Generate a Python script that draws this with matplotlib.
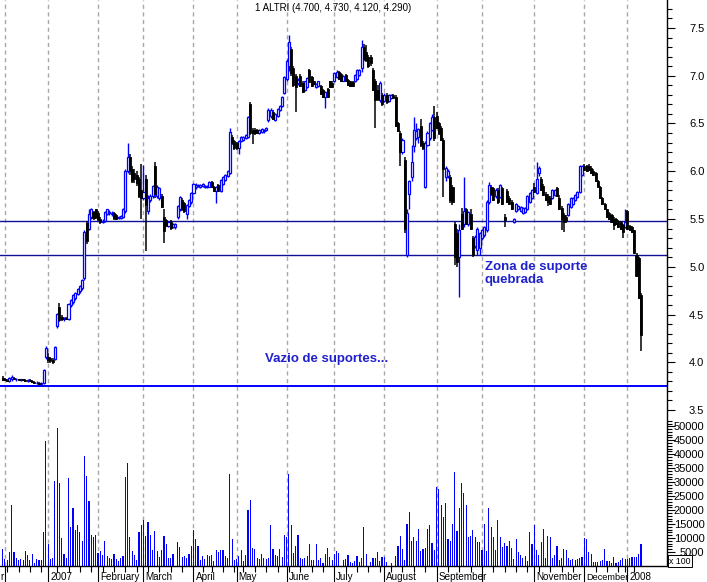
import numpy as np
import pandas as pd
import matplotlib
matplotlib.use("Agg")
import matplotlib.pyplot as plt
from matplotlib.ticker import FixedLocator, FormatStrFormatter
import matplotlib.transforms as mtransforms

plt.rcParams['font.family'] = ['Liberation Sans', 'DejaVu Sans']

# trading calendar (Euronext Lisbon holidays)
holidays = ['2006-12-25', '2006-12-26', '2007-01-01', '2007-04-06', '2007-04-09',
            '2007-05-01', '2007-12-25', '2007-12-26', '2008-01-01']
dates = pd.bdate_range('2006-11-30', '2008-01-10', freq='C', holidays=holidays)

# daily prices, one row per month (Dec06 ... Jan08)
opens = [
    3.84, 3.82, 3.81, 3.80, 3.82, 3.84, 3.82, 3.82, 3.81, 3.82, 3.81, 3.80, 3.81, 3.80, 3.79, 3.78, 3.78, 3.77, 3.78, 4.05,
    4.06, 4.04, 4.02, 4.03, 4.38, 4.58, 4.47, 4.45, 4.46, 4.45, 4.60, 4.63, 4.67, 4.72, 4.75, 4.78, 4.88, 5.46, 5.40, 5.52, 5.57, 5.60,
    5.56, 5.50, 5.47, 5.48, 5.55, 5.56, 5.55, 5.56, 5.54, 5.51, 5.51, 5.52, 5.58, 6.00, 6.15, 6.02, 5.98, 5.96, 5.92, 5.80,
    5.72, 5.92, 5.58, 5.70, 5.74, 6.05, 5.74, 5.72, 5.74, 5.52, 5.49, 5.43, 5.47, 5.42, 5.42, 5.52, 5.60, 5.70, 5.67, 5.55, 5.64, 5.68,
    5.77, 5.83, 5.85, 5.84, 5.85, 5.84, 5.83, 5.84, 5.89, 5.84, 5.79, 5.86, 5.79, 5.87, 5.91, 5.95, 5.98, 6.36, 6.32,
    6.30, 6.24, 6.32, 6.33, 6.35, 6.36, 6.70, 6.43, 6.43, 6.43, 6.40, 6.41, 6.42, 6.43, 6.54, 6.58, 6.62, 6.54, 6.58, 6.64, 6.68, 6.82,
    6.97, 7.10, 7.28, 7.08, 7.00, 6.92, 7.00, 6.92, 6.85, 6.88, 7.06, 6.99, 6.94, 6.88, 6.89, 6.89, 6.85, 6.78, 6.86, 6.94, 6.92,
    6.94, 6.99, 7.04, 7.02, 6.95, 7.01, 6.96, 6.94, 6.93, 6.94, 6.97, 7.01, 7.08, 7.30, 7.25, 7.20, 7.20, 7.06, 6.95, 6.85, 6.75, 6.80,
    6.74, 6.80, 6.74, 6.77, 6.80, 6.78, 6.50, 6.40, 6.20, 6.12, 5.12, 5.76, 5.94, 6.26, 6.35, 6.36, 6.47, 6.30, 5.84, 6.28, 6.35, 6.43, 6.57,
    6.58, 6.50, 6.45, 6.33, 5.94, 5.95, 5.94, 5.84, 5.45, 5.35, 5.10, 5.55, 5.45, 5.60, 5.45, 5.55, 5.30, 5.22, 5.18, 5.20,
    5.30, 5.33, 5.38, 5.68, 5.84, 5.82, 5.74, 5.80, 5.73, 5.82, 5.52, 5.79, 5.72, 5.68, 5.47, 5.58, 5.60, 5.58, 5.56, 5.57, 5.60, 5.68, 5.72,
    5.84, 5.77, 5.98, 5.92, 5.85, 5.76, 5.74, 5.72, 5.72, 5.75, 5.82, 5.72, 5.62, 5.54, 5.52, 5.54, 5.63, 5.66, 5.70, 5.73, 5.78, 5.96,
    6.06, 6.06, 6.05, 6.03, 6.00, 5.98, 5.90, 5.84, 5.72, 5.66, 5.60, 5.56, 5.54, 5.50, 5.50, 5.48, 5.47, 5.44, 5.42,
    5.58, 5.43, 5.42, 5.38, 5.12, 5.09, 4.70,
]
highs = [
    3.86, 3.84, 3.83, 3.85, 3.87, 3.85, 3.84, 3.83, 3.83, 3.83, 3.82, 3.82, 3.82, 3.81, 3.80, 3.80, 3.79, 3.79, 3.93, 4.17,
    4.10, 4.06, 4.04, 4.17, 4.52, 4.62, 4.49, 4.47, 4.47, 4.62, 4.66, 4.71, 4.74, 4.78, 4.81, 4.87, 5.38, 5.48, 5.60, 5.62, 5.58, 5.61,
    5.58, 5.52, 5.50, 5.58, 5.61, 5.59, 5.58, 5.57, 5.55, 5.53, 5.54, 5.62, 6.02, 6.30, 6.18, 6.06, 6.02, 6.00, 5.94, 6.08,
    6.07, 5.96, 5.75, 5.76, 5.86, 6.10, 5.86, 5.84, 5.76, 5.60, 5.50, 5.48, 5.49, 5.46, 5.46, 5.65, 5.74, 5.72, 5.68, 5.66, 5.71, 5.78,
    5.88, 5.88, 5.87, 5.87, 5.88, 5.86, 5.86, 5.90, 5.90, 5.85, 5.85, 5.87, 5.92, 5.95, 5.97, 6.01, 6.45, 6.38, 6.33,
    6.31, 6.33, 6.37, 6.37, 6.39, 6.58, 6.72, 6.45, 6.45, 6.44, 6.44, 6.45, 6.44, 6.46, 6.66, 6.66, 6.64, 6.61, 6.66, 6.69, 6.79, 7.00,
    7.18, 7.43, 7.30, 7.10, 7.02, 6.98, 7.02, 6.94, 6.95, 6.99, 7.07, 7.00, 6.95, 6.92, 6.95, 6.90, 6.86, 6.84, 6.87, 6.95, 6.94,
    7.04, 7.06, 7.05, 7.03, 7.01, 7.02, 6.97, 6.95, 6.94, 7.02, 7.07, 7.07, 7.37, 7.33, 7.32, 7.22, 7.22, 7.08, 6.97, 6.90, 6.94, 6.82,
    6.82, 6.82, 6.81, 6.81, 6.81, 6.80, 6.52, 6.42, 6.35, 6.15, 5.60, 5.91, 6.27, 6.57, 6.50, 6.45, 6.55, 6.32, 6.32, 6.42, 6.52, 6.60, 6.68,
    6.62, 6.52, 6.47, 6.35, 6.05, 6.02, 5.96, 5.86, 5.47, 5.40, 5.45, 5.62, 5.94, 5.62, 5.58, 5.60, 5.32, 5.33, 5.42, 5.36,
    5.40, 5.43, 5.70, 5.89, 5.86, 5.84, 5.82, 5.82, 5.87, 5.84, 5.55, 5.81, 5.74, 5.70, 5.51, 5.67, 5.65, 5.64, 5.63, 5.63, 5.75, 5.78, 5.81,
    5.88, 6.10, 6.06, 5.94, 5.87, 5.78, 5.76, 5.74, 5.81, 5.81, 5.84, 5.75, 5.64, 5.56, 5.54, 5.67, 5.73, 5.73, 5.76, 5.79, 6.07, 6.07,
    6.08, 6.07, 6.08, 6.05, 6.02, 5.99, 5.91, 5.85, 5.73, 5.67, 5.61, 5.57, 5.55, 5.52, 5.51, 5.49, 5.48, 5.45, 5.61,
    5.59, 5.44, 5.43, 5.39, 5.14, 5.10, 4.73,
]
lows = [
    3.80, 3.80, 3.79, 3.79, 3.80, 3.81, 3.80, 3.80, 3.80, 3.80, 3.79, 3.79, 3.79, 3.78, 3.77, 3.77, 3.76, 3.76, 3.77, 4.03,
    3.99, 3.99, 3.98, 4.02, 4.36, 4.42, 4.43, 4.43, 4.44, 4.44, 4.58, 4.61, 4.65, 4.70, 4.73, 4.76, 4.86, 5.24, 5.38, 5.50, 5.49, 5.50,
    5.48, 5.45, 5.46, 5.47, 5.54, 5.54, 5.53, 5.49, 5.49, 5.50, 5.50, 5.51, 5.56, 5.98, 5.96, 5.88, 5.88, 5.85, 5.72, 5.50,
    5.70, 5.17, 5.55, 5.68, 5.72, 5.72, 5.72, 5.70, 5.62, 5.25, 5.42, 5.42, 5.39, 5.41, 5.40, 5.50, 5.58, 5.58, 5.56, 5.50, 5.63, 5.66,
    5.76, 5.81, 5.83, 5.82, 5.84, 5.82, 5.82, 5.83, 5.82, 5.78, 5.67, 5.78, 5.78, 5.86, 5.90, 5.94, 5.97, 6.28, 6.22,
    6.22, 6.18, 6.31, 6.32, 6.34, 6.35, 6.38, 6.29, 6.38, 6.39, 6.39, 6.40, 6.40, 6.42, 6.52, 6.56, 6.54, 6.53, 6.57, 6.63, 6.67, 6.81,
    6.95, 7.05, 7.00, 6.88, 6.62, 6.90, 6.88, 6.82, 6.84, 6.87, 6.92, 6.88, 6.90, 6.87, 6.88, 6.80, 6.77, 6.66, 6.77, 6.87, 6.87,
    6.93, 6.98, 6.96, 6.93, 6.94, 6.93, 6.89, 6.88, 6.88, 6.93, 6.96, 7.00, 7.04, 7.15, 7.14, 7.08, 7.10, 6.84, 6.45, 6.74, 6.73, 6.68,
    6.72, 6.70, 6.73, 6.76, 6.76, 6.46, 6.41, 6.05, 6.18, 5.35, 5.10, 5.60, 5.90, 6.20, 6.33, 6.30, 6.25, 6.22, 5.82, 6.26, 6.33, 6.42, 6.32,
    6.44, 6.38, 6.32, 5.73, 5.90, 5.93, 5.67, 5.65, 5.02, 5.00, 4.68, 5.38, 5.42, 5.44, 5.43, 5.38, 5.10, 5.20, 5.12, 5.12,
    5.28, 5.31, 5.36, 5.66, 5.74, 5.69, 5.72, 5.66, 5.72, 5.65, 5.42, 5.67, 5.65, 5.59, 5.46, 5.57, 5.59, 5.57, 5.55, 5.56, 5.59, 5.67, 5.71,
    5.77, 5.76, 5.95, 5.79, 5.74, 5.69, 5.64, 5.65, 5.71, 5.74, 5.73, 5.59, 5.38, 5.36, 5.46, 5.53, 5.62, 5.65, 5.69, 5.72, 5.77, 5.95,
    6.00, 5.99, 6.00, 5.97, 5.95, 5.89, 5.83, 5.71, 5.65, 5.59, 5.51, 5.49, 5.46, 5.39, 5.44, 5.41, 5.39, 5.30, 5.41,
    5.39, 5.37, 5.35, 5.13, 4.89, 4.66, 4.12,
]
closes = [
    3.81, 3.81, 3.80, 3.84, 3.85, 3.82, 3.83, 3.81, 3.82, 3.81, 3.80, 3.81, 3.80, 3.79, 3.78, 3.78, 3.77, 3.78, 3.92, 4.15,
    4.02, 4.01, 4.00, 4.16, 4.51, 4.44, 4.45, 4.46, 4.45, 4.61, 4.65, 4.70, 4.73, 4.77, 4.80, 4.86, 5.36, 5.27, 5.55, 5.60, 5.51, 5.52,
    5.50, 5.47, 5.48, 5.57, 5.60, 5.57, 5.56, 5.51, 5.50, 5.52, 5.53, 5.60, 6.00, 6.15, 6.00, 5.90, 5.92, 5.88, 5.74, 5.72,
    5.78, 5.65, 5.72, 5.74, 5.85, 5.76, 5.84, 5.82, 5.63, 5.37, 5.43, 5.47, 5.41, 5.45, 5.45, 5.64, 5.73, 5.60, 5.58, 5.65, 5.70, 5.77,
    5.87, 5.86, 5.86, 5.86, 5.87, 5.85, 5.85, 5.89, 5.83, 5.79, 5.84, 5.79, 5.91, 5.94, 5.96, 6.00, 6.41, 6.30, 6.24,
    6.24, 6.32, 6.36, 6.36, 6.38, 6.57, 6.40, 6.40, 6.40, 6.40, 6.43, 6.44, 6.43, 6.45, 6.64, 6.64, 6.55, 6.60, 6.65, 6.68, 6.78, 6.99,
    7.15, 7.35, 7.03, 6.90, 6.88, 6.96, 6.89, 6.83, 6.94, 6.98, 6.93, 6.89, 6.91, 6.91, 6.94, 6.81, 6.78, 6.83, 6.78, 6.88, 6.88,
    7.03, 7.04, 6.97, 6.94, 7.00, 6.94, 6.90, 6.89, 6.89, 7.01, 7.06, 7.06, 7.30, 7.18, 7.17, 7.10, 7.13, 6.85, 6.75, 6.76, 6.92, 6.70,
    6.80, 6.72, 6.80, 6.80, 6.77, 6.47, 6.42, 6.20, 6.33, 5.40, 5.56, 5.90, 6.10, 6.43, 6.42, 6.44, 6.27, 6.24, 6.30, 6.40, 6.50, 6.57, 6.35,
    6.45, 6.40, 6.33, 6.02, 6.03, 6.00, 5.70, 5.68, 5.10, 5.05, 5.38, 5.40, 5.58, 5.45, 5.57, 5.40, 5.12, 5.31, 5.40, 5.35,
    5.38, 5.42, 5.68, 5.86, 5.76, 5.70, 5.80, 5.68, 5.86, 5.66, 5.49, 5.68, 5.66, 5.60, 5.50, 5.66, 5.64, 5.63, 5.62, 5.62, 5.74, 5.77, 5.80,
    5.78, 5.92, 6.03, 5.80, 5.75, 5.70, 5.68, 5.66, 5.80, 5.80, 5.74, 5.60, 5.50, 5.47, 5.48, 5.66, 5.72, 5.72, 5.75, 5.78, 6.05, 6.05,
    6.01, 6.00, 6.01, 5.98, 5.96, 5.90, 5.84, 5.72, 5.66, 5.60, 5.52, 5.50, 5.47, 5.44, 5.45, 5.42, 5.40, 5.36, 5.47,
    5.40, 5.38, 5.36, 5.14, 4.90, 4.67, 4.29,
]
# volume in thousands of "x 100" units
volume_k = [
    6.2, 2.6, 2.0, 5.1, 21.8, 5.1, 3.0, 2.0, 2.6, 2.0, 5.5, 4.1, 2.3, 4.4, 1.2, 2.6, 2.0, 2.3, 12.0, 44.6,
    7.7, 2.6, 3.0, 30.3, 49.3, 29.6, 10.2, 4.4, 3.0, 31.4, 14.1, 20.6, 13.0, 14.8, 12.0, 9.1, 39.3, 32.1, 23.1, 11.2, 10.5, 11.2,
    4.8, 5.5, 4.1, 9.1, 3.7, 3.0, 2.6, 4.4, 2.6, 1.9, 3.0, 3.7, 31.7, 36.7, 10.5, 5.5, 4.1, 2.3, 12.3, 14.8,
    16.6, 10.9, 15.9, 11.2, 5.9, 12.7, 5.5, 3.4, 5.9, 10.9, 7.7, 3.0, 3.0, 4.4, 0.0, 8.7, 6.9, 3.4, 3.7, 3.0, 4.4, 7.3,
    13.0, 9.5, 7.3, 2.3, 3.7, 2.6, 4.1, 3.7, 4.1, 1.9, 5.9, 5.1, 5.9, 5.9, 3.7, 3.0, 33.1, 9.8, 2.3,
    2.6, 3.7, 5.9, 1.9, 4.1, 20.2, 23.8, 6.6, 6.2, 3.0, 2.6, 4.4, 3.0, 2.6, 3.0, 14.8, 6.2, 4.1, 3.7, 6.2, 3.4, 11.2,
    10.5, 33.1, 14.8, 4.8, 7.3, 11.2, 3.0, 2.6, 3.0, 3.7, 7.7, 2.3, 2.3, 7.7, 2.3, 3.0, 1.2, 4.4, 6.6, 3.4, 2.3,
    4.4, 5.5, 4.8, 0.0, 2.3, 2.6, 4.1, 1.6, 1.2, 1.9, 3.7, 1.6, 3.0, 13.8, 4.4, 0.0, 1.6, 3.0, 3.0, 5.1, 1.9, 3.4,
    3.4, 1.6, 0.0, 1.2, 0.0, 3.7, 7.3, 10.9, 6.2, 2.3, 15.2, 19.5, 9.1, 10.5, 9.1, 13.4, 5.5, 6.2, 6.6, 13.4, 14.8, 8.4, 5.9,
    28.1, 27.4, 21.7, 17.7, 22.4, 9.8, 9.1, 15.2, 33.5, 12.7, 20.9, 29.6, 26.3, 21.7, 10.5, 10.9, 13.0, 10.5, 8.7, 8.7,
    5.9, 15.2, 5.5, 20.6, 13.8, 10.5, 5.9, 16.3, 10.5, 6.9, 8.4, 7.3, 9.1, 6.6, 2.6, 9.5, 5.1, 4.1, 3.0, 3.7, 1.9, 12.0, 7.7,
    14.5, 5.9, 4.1, 8.7, 13.4, 3.0, 10.9, 10.5, 3.0, 4.1, 7.3, 2.3, 3.0, 6.2, 5.9, 3.0, 2.3, 2.6, 2.3, 2.6, 3.0, 3.4,
    10.2, 9.5, 5.1, 4.4, 1.6, 1.6, 1.6, 1.9, 2.3, 6.2, 1.9, 1.9, 1.2, 3.4, 1.2, 1.6, 2.3, 3.0, 2.6,
    2.6, 3.0, 3.4, 3.4, 3.4, 4.4, 7.7,
]

# support lines and labels
support_levels = [5.48, 5.12]
floor_level = 3.75
# (year, month) -> label; months missing here get no label
month_labels = {(2007, 1): '2007', (2007, 2): 'February', (2007, 3): 'March', (2007, 4): 'April',
                (2007, 5): 'May', (2007, 6): 'June', (2007, 7): 'July', (2007, 8): 'August',
                (2007, 9): 'September', (2007, 11): 'November', (2007, 12): 'December',
                (2008, 1): '2008'}
title = '1 ALTRI (4.700, 4.730, 4.120, 4.290)'

n = len(closes)
assert len(opens) == n and len(highs) == n and len(lows) == n and len(volume_k) == n
dates = dates[:n]
x = np.arange(n)
o = np.array(opens)
h = np.array(highs)
l = np.array(lows)
c = np.array(closes)
vol = np.array(volume_k) * 1000

W, H = 707, 582
fig = plt.figure(figsize=(W / 100, H / 100), dpi=100)
ax = fig.add_axes([0, 16 / H, 666.5 / W, 566 / H])
axv = ax.twinx()

BLUE = '#0000ff'
up = c >= o

# wicks
ax.vlines(x[up], l[up], h[up], colors=BLUE, linewidth=1.0, zorder=3)
ax.vlines(x[~up], l[~up], h[~up], colors='black', linewidth=1.1, zorder=3)
# bodies
ax.bar(x[up], np.maximum(c[up] - o[up], 0.004), bottom=o[up], width=0.9,
       facecolor='white', edgecolor=BLUE, linewidth=0.9, zorder=4)
ax.bar(x[~up], o[~up] - c[~up], bottom=c[~up], width=0.9,
       facecolor='black', edgecolor='black', linewidth=0.6, zorder=4)

# volume
axv.bar(x, vol, width=0.5, color=BLUE, linewidth=0, antialiased=False)

# horizontal support lines
for lev in support_levels:
    ax.axhline(lev, color='#10109a', linewidth=1.0, zorder=2)
ax.axhline(floor_level, color=BLUE, linewidth=1.4, zorder=2)

# month boundaries and weekly ticks
month_idx = [i for i in range(1, n) if dates[i].month != dates[i - 1].month]
week_idx = [i for i in range(1, n) if dates[i].weekday() < dates[i - 1].weekday()]
for i in month_idx:
    ax.axvline(i, color='#a8a8a8', linewidth=1.0, linestyle=(0, (3, 2.5)), zorder=1)

ax.set_xlim(-1.16, 292.2)
ax.set_ylim(1.867, 7.793)
axv.set_ylim(0, 202600)

ax.xaxis.set_major_locator(FixedLocator(month_idx))
ax.xaxis.set_minor_locator(FixedLocator(week_idx))
ax.set_xticklabels([])
ax.tick_params(axis='x', which='major', direction='out', length=11.8, width=0.8, color='black')
ax.tick_params(axis='x', which='minor', direction='out', length=4.3, width=0.8, color='black')

xtr = mtransforms.blended_transform_factory(ax.transData, fig.transFigure)
for i in month_idx:
    d = dates[i]
    lab = month_labels.get((d.year, d.month), '')
    if lab:
        size = 6.6 if lab == 'December' else 7.1
        ax.text(i + 0.9, 1 - 577 / H, lab, transform=xtr, fontsize=size,
                ha='left', va='center', clip_on=False)
# tail of the previous month's label, cut by the left edge
fig.text(4 / W, 1 - 577 / H, 'r', fontsize=7.1, ha='right', va='center')

# right axis ticks: price
ax.yaxis.set_ticks_position('right')
ax.yaxis.set_major_locator(FixedLocator(np.arange(3.5, 7.51, 0.5)))
ax.yaxis.set_minor_locator(FixedLocator(np.arange(3.5, 7.75, 0.1)))
ax.yaxis.set_major_formatter(FormatStrFormatter('%.1f'))
ax.tick_params(axis='y', which='major', direction='out', length=5.8, width=0.8, pad=21.5, labelsize=8)
ax.tick_params(axis='y', which='minor', direction='out', length=3.6, width=0.8)
for t in ax.get_yticklabels():
    t.set_horizontalalignment('right')

# right axis ticks: volume
axv.yaxis.set_major_locator(FixedLocator(np.arange(5000, 50001, 5000)))
axv.yaxis.set_minor_locator(FixedLocator(np.arange(1000, 52001, 1000)))
axv.yaxis.set_major_formatter(FormatStrFormatter('%d'))
axv.tick_params(axis='y', which='major', direction='out', length=5.8, width=0.8, pad=21.5, labelsize=8)
axv.tick_params(axis='y', which='minor', direction='out', length=3.6, width=0.8)
for t in axv.get_yticklabels():
    t.set_horizontalalignment('right')

for a in (ax, axv):
    a.spines['left'].set_visible(False)
    a.spines['top'].set_visible(False)
ax.spines['right'].set_linewidth(1.0)
ax.spines['bottom'].set_linewidth(1.0)
axv.spines['bottom'].set_visible(False)
axv.spines['right'].set_visible(False)

fig.text(669 / W, 1 - 561 / H, 'x 100', fontsize=6.3, ha='left', va='center',
         bbox=dict(boxstyle='square,pad=0.12', fc='white', ec='black', lw=0.7))

# annotations
ax.text(212.1, 5.06, 'Zona de suporte\nquebrada', color='#2020cc', fontsize=9.5,
        fontweight='bold', ha='left', va='top', linespacing=1.15, zorder=5)
ax.text(115.6, 4.034, 'Vazio de suportes...', color='#2020cc', fontsize=9.5,
        fontweight='bold', ha='left', va='center', zorder=5)

fig.text(333 / W, 1 - 8 / H, title, fontsize=7, ha='center', va='center')

fig.savefig('out.png', dpi=100)
